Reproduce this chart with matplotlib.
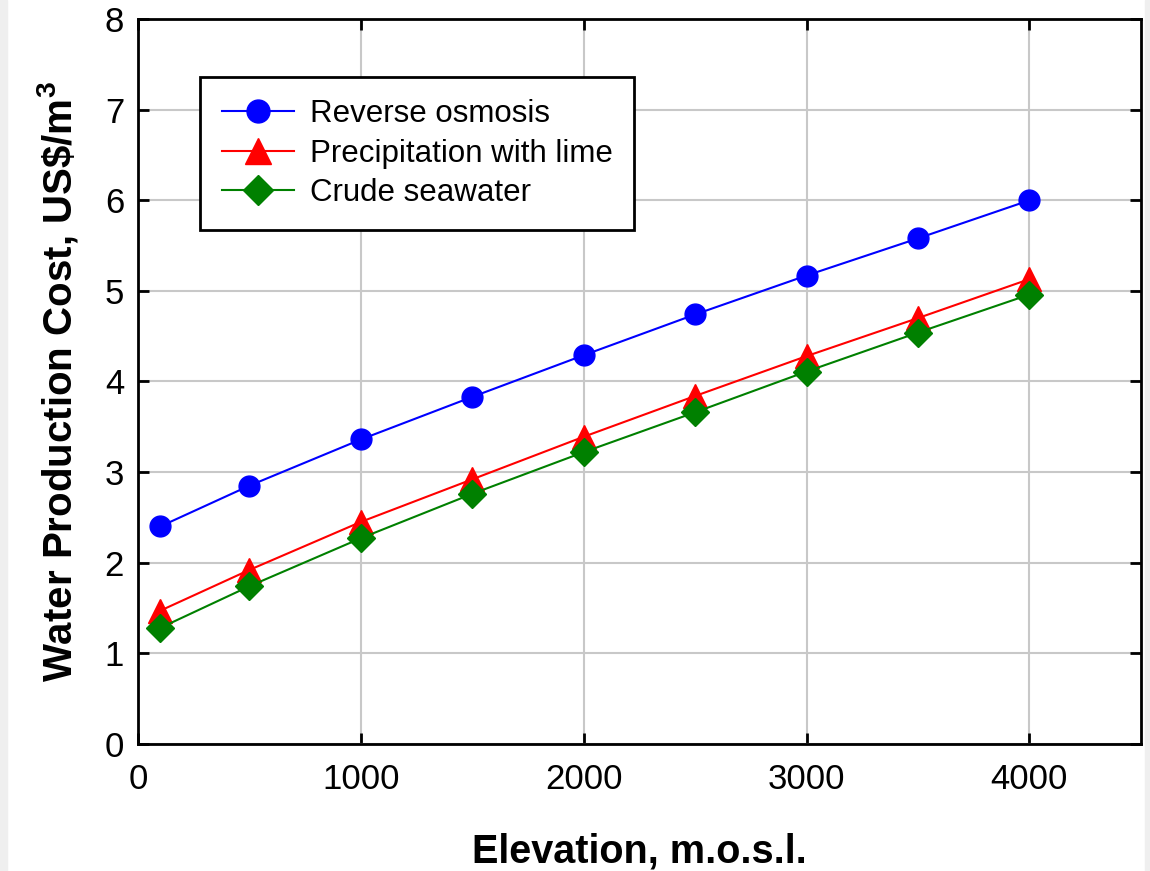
import matplotlib
matplotlib.use('Agg')
import matplotlib.pyplot as plt
from matplotlib.patches import Rectangle

plt.rcParams['font.family'] = ['Liberation Sans', 'DejaVu Sans']
plt.rcParams['mathtext.fontset'] = 'custom'
plt.rcParams['mathtext.bf'] = 'Liberation Sans:bold'
plt.rcParams['mathtext.rm'] = 'Liberation Sans'

elevation = [100, 500, 1000, 1500, 2000, 2500, 3000, 3500, 4000]
reverse_osmosis = [2.40, 2.85, 3.36, 3.83, 4.29, 4.74, 5.17, 5.58, 6.00]
precip_lime = [1.47, 1.92, 2.45, 2.92, 3.39, 3.84, 4.28, 4.70, 5.13]
crude_seawater = [1.28, 1.74, 2.27, 2.76, 3.22, 3.66, 4.11, 4.54, 4.96]

x_ticks = [0, 1000, 2000, 3000, 4000]
y_ticks = [0, 1, 2, 3, 4, 5, 6, 7, 8]

fig = plt.figure(figsize=(11.5, 8.71), dpi=100)
# thin grey strips at the page edges
fig.patches.append(Rectangle((0, 0), 7 / 1150, 1, transform=fig.transFigure, color='#efefef', zorder=0))
fig.patches.append(Rectangle((1 - 5 / 1150, 0), 5 / 1150, 1, transform=fig.transFigure, color='#efefef', zorder=0))

ax = fig.add_axes([0.12, 0.146, 0.872, 0.832])

ax.plot(elevation, reverse_osmosis, '-o', color='blue', lw=1.5, ms=15, label='Reverse osmosis')
ax.plot(elevation, precip_lime, '-^', color='red', lw=1.5, ms=17, label='Precipitation with lime')
ax.plot(elevation, crude_seawater, '-D', color='green', lw=1.5, ms=14, label='Crude seawater')

ax.set_xlim(0, 4500)
ax.set_ylim(0, 8)
ax.set_xticks(x_ticks)
ax.set_yticks(y_ticks)
ax.grid(True, color='#c8c8c8', lw=1.5)
ax.set_axisbelow(True)
ax.tick_params(direction='in', length=8, width=2, top=True, right=True,
               labelsize=25, colors='black')
ax.tick_params(axis='x', pad=14)
ax.tick_params(axis='y', pad=10)
for s in ax.spines.values():
    s.set_linewidth(2)

ax.set_xlabel('Elevation, m.o.s.l.', fontsize=28.5, fontweight='bold', labelpad=26)
ax.set_ylabel('Water Production Cost, US\\$/m$^{\\mathbf{3}}$', fontsize=29, fontweight='bold', labelpad=18)

leg = ax.legend(loc='upper left', bbox_to_anchor=(0.062, 0.92), borderaxespad=0, fontsize=22.5,
                frameon=True, fancybox=False, edgecolor='black', framealpha=1, borderpad=0.7,
                handlelength=2.3, labelspacing=0.31, handletextpad=0.5, markerscale=1.1)
leg.get_frame().set_linewidth(2)

fig.savefig('out.png', dpi=100)
